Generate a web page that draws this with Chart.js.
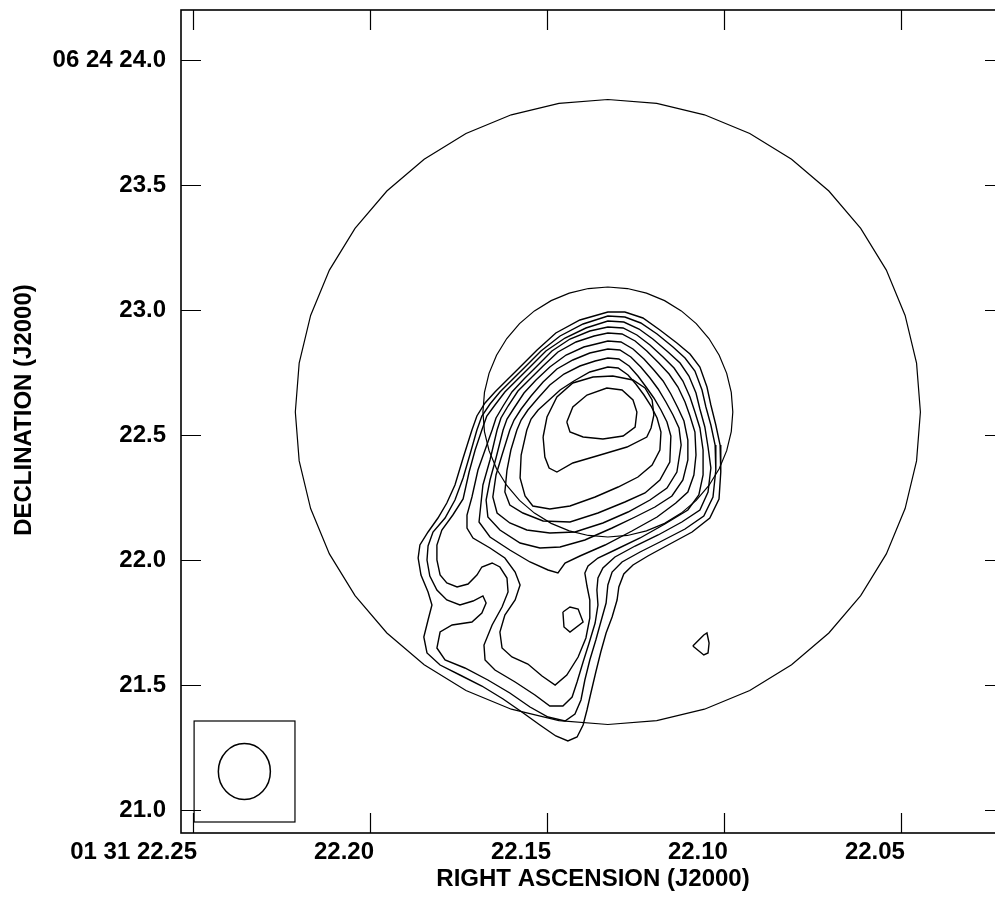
<!DOCTYPE html>
<html>
<head>
<meta charset="utf-8">
<script src="https://cdn.jsdelivr.net/npm/chart.js@4.4.1/dist/chart.umd.min.js"></script>
<style>
  html, body { margin: 0; padding: 0; background: #fff; overflow: hidden; }
  #wrap { width: 1010px; height: 898px; }
</style>
</head>
<body>
<div id="wrap"><canvas id="map" width="1010" height="898"></canvas></div>
<script>
// Axis ticks (RA in seconds of time, Dec in arcsec)
const raTicks = [22.25, 22.20, 22.15, 22.10, 22.05];
const raTickLabels = ['01 31 22.25', '22.20', '22.15', '22.10', '22.05'];
const decTicks = [21.0, 21.5, 22.0, 22.5, 23.0, 23.5, 24.0];
const decTickLabels = ['21.0', '21.5', '22.0', '22.5', '23.0', '23.5', '06 24 24.0'];

// Contour levels, lowest first: [RA s, Dec arcsec]
const contour1 = [[22.1712,22.520],[22.1698,22.576],[22.1675,22.628],[22.1647,22.672],[22.1613,22.720],[22.1576,22.772],[22.1528,22.840],[22.1475,22.908],[22.1407,22.960],[22.1328,22.992],[22.1280,22.992],[22.1229,22.968],[22.1181,22.920],[22.1133,22.868],[22.1096,22.824],[22.1068,22.772],[22.1048,22.692],[22.1037,22.620],[22.1023,22.540],[22.1011,22.460],[22.1009,22.352],[22.1014,22.244],[22.1040,22.168],[22.1090,22.112],[22.1158,22.060],[22.1215,22.016],[22.1257,21.980],[22.1283,21.944],[22.1297,21.892],[22.1302,21.840],[22.1316,21.772],[22.1333,21.708],[22.1348,21.632],[22.1362,21.552],[22.1376,21.468],[22.1387,21.400],[22.1398,21.340],[22.1415,21.292],[22.1441,21.276],[22.1475,21.296],[22.1520,21.340],[22.1571,21.392],[22.1624,21.444],[22.1684,21.496],[22.1746,21.540],[22.1802,21.580],[22.1839,21.628],[22.1848,21.692],[22.1836,21.760],[22.1825,21.820],[22.1836,21.872],[22.1856,21.940],[22.1864,22.008],[22.1859,22.060],[22.1836,22.112],[22.1808,22.168],[22.1783,22.228],[22.1760,22.300],[22.1737,22.408]];
const contour2 = [[22.1698,22.520],[22.1684,22.576],[22.1661,22.624],[22.1633,22.672],[22.1599,22.720],[22.1562,22.772],[22.1517,22.836],[22.1463,22.896],[22.1398,22.944],[22.1328,22.976],[22.1280,22.972],[22.1235,22.948],[22.1189,22.904],[22.1144,22.852],[22.1110,22.808],[22.1082,22.756],[22.1062,22.680],[22.1051,22.612],[22.1037,22.540],[22.1025,22.460],[22.1023,22.360],[22.1031,22.252],[22.1057,22.176],[22.1110,22.124],[22.1181,22.072],[22.1237,22.032],[22.1288,21.992],[22.1316,21.952],[22.1328,21.900],[22.1333,21.828],[22.1348,21.752],[22.1362,21.680],[22.1379,21.600],[22.1393,21.520],[22.1404,21.440],[22.1421,21.384],[22.1449,21.356],[22.1497,21.372],[22.1548,21.412],[22.1605,21.468],[22.1667,21.520],[22.1732,21.568],[22.1788,21.600],[22.1811,21.648],[22.1802,21.712],[22.1768,21.740],[22.1712,21.752],[22.1684,21.788],[22.1672,21.828],[22.1681,21.856],[22.1709,21.836],[22.1746,21.820],[22.1783,21.840],[22.1811,21.880],[22.1831,21.936],[22.1839,22.000],[22.1836,22.056],[22.1822,22.112],[22.1788,22.168],[22.1760,22.240],[22.1737,22.328],[22.1718,22.420]];
const contour3 = [[22.1684,22.520],[22.1670,22.576],[22.1647,22.620],[22.1619,22.672],[22.1585,22.720],[22.1548,22.772],[22.1503,22.836],[22.1449,22.888],[22.1390,22.928],[22.1328,22.956],[22.1283,22.952],[22.1240,22.924],[22.1201,22.884],[22.1158,22.832],[22.1124,22.788],[22.1099,22.736],[22.1079,22.668],[22.1068,22.604],[22.1054,22.532],[22.1045,22.452],[22.1037,22.368],[22.1045,22.272],[22.1068,22.200],[22.1119,22.152],[22.1186,22.100],[22.1251,22.056],[22.1308,22.012],[22.1342,21.968],[22.1356,21.928],[22.1359,21.880],[22.1356,21.820],[22.1364,21.748],[22.1381,21.668],[22.1398,21.592],[22.1415,21.512],[22.1429,21.452],[22.1455,21.416],[22.1492,21.416],[22.1534,21.460],[22.1590,21.512],[22.1647,21.560],[22.1675,21.600],[22.1678,21.660],[22.1655,21.740],[22.1627,21.812],[22.1610,21.872],[22.1613,21.928],[22.1633,21.972],[22.1655,21.988],[22.1684,21.972],[22.1698,21.940],[22.1723,21.904],[22.1754,21.892],[22.1783,21.908],[22.1802,21.940],[22.1811,22.000],[22.1811,22.060],[22.1797,22.120],[22.1766,22.180],[22.1737,22.244],[22.1720,22.352],[22.1703,22.440]];
const contour4 = [[22.1655,22.520],[22.1644,22.568],[22.1624,22.616],[22.1599,22.672],[22.1565,22.724],[22.1528,22.776],[22.1486,22.836],[22.1435,22.884],[22.1379,22.916],[22.1328,22.932],[22.1285,22.928],[22.1246,22.900],[22.1209,22.860],[22.1172,22.812],[22.1141,22.768],[22.1116,22.716],[22.1096,22.652],[22.1082,22.592],[22.1068,22.528],[22.1059,22.440],[22.1059,22.340],[22.1071,22.260],[22.1102,22.200],[22.1167,22.144],[22.1237,22.088],[22.1308,22.040],[22.1356,22.008],[22.1384,21.976],[22.1393,21.948],[22.1387,21.896],[22.1379,21.840],[22.1379,21.768],[22.1390,21.688],[22.1412,21.612],[22.1444,21.540],[22.1477,21.500],[22.1514,21.536],[22.1554,21.584],[22.1599,21.612],[22.1627,21.648],[22.1633,21.712],[22.1619,21.780],[22.1590,21.840],[22.1576,21.900],[22.1590,21.952],[22.1619,22.008],[22.1661,22.048],[22.1709,22.088],[22.1726,22.128],[22.1726,22.180],[22.1712,22.252],[22.1695,22.360],[22.1675,22.440]];
const contour5 = [[22.1641,22.520],[22.1630,22.568],[22.1610,22.616],[22.1582,22.676],[22.1548,22.724],[22.1511,22.776],[22.1469,22.832],[22.1418,22.872],[22.1367,22.896],[22.1328,22.908],[22.1288,22.904],[22.1251,22.876],[22.1218,22.836],[22.1184,22.788],[22.1155,22.744],[22.1130,22.692],[22.1110,22.632],[22.1096,22.576],[22.1082,22.512],[22.1079,22.420],[22.1085,22.340],[22.1102,22.272],[22.1136,22.228],[22.1189,22.172],[22.1260,22.116],[22.1336,22.060],[22.1407,22.016],[22.1449,21.988],[22.1469,21.948],[22.1497,21.960],[22.1548,21.992],[22.1605,22.040],[22.1661,22.092],[22.1692,22.152],[22.1687,22.220],[22.1681,22.300],[22.1661,22.400]];
const contour6 = [[22.1624,22.520],[22.1613,22.564],[22.1593,22.608],[22.1565,22.668],[22.1531,22.720],[22.1492,22.772],[22.1446,22.820],[22.1396,22.852],[22.1350,22.868],[22.1328,22.876],[22.1291,22.872],[22.1257,22.844],[22.1226,22.804],[22.1198,22.760],[22.1172,22.716],[22.1150,22.664],[22.1130,22.608],[22.1113,22.556],[22.1102,22.480],[22.1102,22.400],[22.1116,22.320],[22.1147,22.256],[22.1195,22.212],[22.1251,22.172],[22.1316,22.128],[22.1393,22.080],[22.1463,22.052],[22.1520,22.048],[22.1576,22.068],[22.1633,22.120],[22.1667,22.172],[22.1672,22.240],[22.1661,22.320],[22.1644,22.408]];
const contour7 = [[22.1605,22.520],[22.1593,22.560],[22.1573,22.604],[22.1545,22.656],[22.1511,22.712],[22.1472,22.764],[22.1427,22.800],[22.1379,22.828],[22.1328,22.844],[22.1294,22.840],[22.1263,22.812],[22.1235,22.772],[22.1209,22.728],[22.1186,22.684],[22.1164,22.632],[22.1144,22.580],[22.1127,22.528],[22.1121,22.460],[22.1133,22.352],[22.1161,22.288],[22.1209,22.240],[22.1271,22.192],[22.1342,22.148],[22.1421,22.112],[22.1492,22.108],[22.1557,22.120],[22.1605,22.148],[22.1641,22.188],[22.1653,22.252],[22.1644,22.340],[22.1627,22.420]];
const contour8 = [[22.1585,22.520],[22.1573,22.560],[22.1554,22.600],[22.1525,22.648],[22.1492,22.700],[22.1452,22.744],[22.1407,22.776],[22.1364,22.796],[22.1328,22.808],[22.1297,22.804],[22.1268,22.776],[22.1243,22.736],[22.1220,22.692],[22.1198,22.648],[22.1178,22.600],[22.1161,22.552],[22.1150,22.496],[22.1153,22.392],[22.1181,22.320],[22.1223,22.268],[22.1280,22.232],[22.1356,22.188],[22.1435,22.152],[22.1511,22.156],[22.1568,22.188],[22.1605,22.220],[22.1619,22.272],[22.1613,22.360],[22.1602,22.440]];
const contour9 = [[22.1557,22.520],[22.1545,22.564],[22.1525,22.600],[22.1497,22.636],[22.1463,22.680],[22.1424,22.716],[22.1379,22.752],[22.1328,22.772],[22.1299,22.768],[22.1271,22.740],[22.1249,22.704],[22.1226,22.660],[22.1206,22.616],[22.1189,22.568],[22.1178,22.512],[22.1181,22.440],[22.1203,22.380],[22.1243,22.332],[22.1299,22.292],[22.1364,22.252],[22.1435,22.216],[22.1492,22.204],[22.1540,22.216],[22.1562,22.256],[22.1576,22.328],[22.1573,22.420]];
const contour10 = [[22.1511,22.492],[22.1500,22.572],[22.1472,22.652],[22.1427,22.708],[22.1370,22.732],[22.1314,22.736],[22.1257,22.720],[22.1223,22.688],[22.1203,22.640],[22.1198,22.580],[22.1206,22.528],[22.1218,22.492],[22.1274,22.452],[22.1350,22.420],[22.1427,22.388],[22.1472,22.352],[22.1494,22.368],[22.1506,22.412]];
const contour11 = [[22.1444,22.552],[22.1427,22.612],[22.1387,22.660],[22.1331,22.688],[22.1288,22.680],[22.1257,22.640],[22.1246,22.592],[22.1251,22.532],[22.1285,22.496],[22.1342,22.484],[22.1398,22.492],[22.1435,22.512]];
// small closed islands
const lobePeak = [[22.1455,21.792],[22.1435,21.812],[22.1412,21.804],[22.1398,21.752],[22.1435,21.712],[22.1452,21.732]];
const eastKnot = [[22.1088,21.656],[22.1057,21.700],[22.1048,21.708],[22.1042,21.668],[22.1045,21.628],[22.1057,21.620]];

const contours = [contour1, contour2, contour3, contour4, contour5, contour6, contour7, contour8, contour9, contour10, contour11, lobePeak, eastKnot];

// Reference rings around the source
const ringCentre = [22.1328, 22.592];
const ringRadiiRa = [0.0353, 0.0883];
const ringRadiiDec = [0.50, 1.25];

// Restoring beam and its box
const beamBoxRa = [22.2497, 22.2212];
const beamBoxDec = [21.356, 20.952];
const beamCentre = [22.2355, 21.154];
const beamWidthRa = 0.0147;
const beamHeightDec = 0.224;

const FONT = '"Liberation Sans", Arial, Helvetica, sans-serif';
const black = '#000';

const datasets = contours.map(function (c) {
    return {
        data: c.concat([c[0]]).map(function (p) { return { x: p[0], y: p[1] }; }),
        showLine: true,
        borderColor: black,
        borderWidth: 1.4,
        pointRadius: 0,
        tension: 0,
        fill: false
    };
});

// Frame, inside ticks, rings, beam and axis titles
const mapFrame = {
    id: 'mapFrame',
    afterDraw(chart) {
        const ctx = chart.ctx, a = chart.chartArea;
        const xs = chart.scales.x, ys = chart.scales.y;
        ctx.save();
        ctx.strokeStyle = black;

        ctx.lineWidth = 1.2;
        ringRadiiDec.forEach(function (rd, i) {
            const rr = ringRadiiRa[i];
            ctx.beginPath();
            for (let k = 0; k <= 40; k++) {
                const t = k / 40 * 2 * Math.PI;
                const px = xs.getPixelForValue(ringCentre[0] + rr * Math.cos(t));
                const py = ys.getPixelForValue(ringCentre[1] + rd * Math.sin(t));
                if (k) ctx.lineTo(px, py); else ctx.moveTo(px, py);
            }
            ctx.stroke();
        });

        // beam
        const bx0 = xs.getPixelForValue(beamBoxRa[0]), bx1 = xs.getPixelForValue(beamBoxRa[1]);
        const by0 = ys.getPixelForValue(beamBoxDec[0]), by1 = ys.getPixelForValue(beamBoxDec[1]);
        ctx.lineWidth = 1.2;
        ctx.strokeRect(bx0, by0, bx1 - bx0, by1 - by0);
        const cx = xs.getPixelForValue(beamCentre[0]), cy = ys.getPixelForValue(beamCentre[1]);
        const rx = Math.abs(xs.getPixelForValue(beamCentre[0] + beamWidthRa / 2) - cx);
        const ry = Math.abs(ys.getPixelForValue(beamCentre[1] + beamHeightDec / 2) - cy);
        ctx.lineWidth = 1.5;
        ctx.beginPath();
        ctx.ellipse(cx, cy, rx, ry, 0, 0, 2 * Math.PI);
        ctx.stroke();

        // frame
        ctx.lineWidth = 1.6;
        ctx.strokeRect(a.left, a.top, a.right - a.left, a.bottom - a.top);

        // ticks drawn inside the frame
        ctx.lineWidth = 1.2;
        ctx.beginPath();
        raTicks.forEach(function (v) {
            const px = Math.round(xs.getPixelForValue(v)) + 0.5;
            ctx.moveTo(px, a.bottom); ctx.lineTo(px, a.bottom - 20);
            ctx.moveTo(px, a.top); ctx.lineTo(px, a.top + 20);
        });
        decTicks.forEach(function (v) {
            const py = Math.round(ys.getPixelForValue(v)) + 0.5;
            ctx.moveTo(a.left, py); ctx.lineTo(a.left + 20, py);
            ctx.moveTo(a.right, py); ctx.lineTo(a.right - 20, py);
        });
        ctx.stroke();

        // axis titles
        ctx.fillStyle = black;
        ctx.font = 'bold 24px ' + FONT;
        ctx.textAlign = 'center';
        ctx.textBaseline = 'alphabetic';
        ctx.fillText('RIGHT ASCENSION (J2000)', (a.left + a.right) / 2, a.bottom + 53);
        ctx.translate(31, a.top + 400);
        ctx.rotate(-Math.PI / 2);
        ctx.fillText('DECLINATION (J2000)', 0, 0);
        ctx.restore();
    }
};

new Chart(document.getElementById('map'), {
    type: 'scatter',
    data: { datasets: datasets },
    options: {
        responsive: false,
        animation: false,
        devicePixelRatio: 1,
        layout: { padding: { top: 10, right: 5, left: 0, bottom: 0 } },
        plugins: {
            legend: { display: false },
            tooltip: { enabled: false }
        },
        scales: {
            x: {
                type: 'linear',
                reverse: true,
                min: 22.0206,
                max: 22.2534,
                afterBuildTicks: function (scale) {
                    scale.ticks = raTicks.map(function (v) { return { value: v }; });
                },
                afterFit: function (scale) {
                    scale.height = 65;
                    scale.paddingLeft = 0;
                    scale.paddingRight = 0;
                },
                grid: { display: false, drawTicks: false },
                border: { display: false },
                ticks: {
                    autoSkip: false,
                    maxRotation: 0,
                    minRotation: 0,
                    align: 'end',
                    labelOffset: 4,
                    padding: 5,
                    color: black,
                    font: { family: FONT, size: 24, weight: 'bold' },
                    callback: function (value) { return raTickLabels[raTicks.indexOf(value)]; }
                }
            },
            y: {
                type: 'linear',
                min: 20.908,
                max: 24.2,
                afterBuildTicks: function (scale) {
                    scale.ticks = decTicks.map(function (v) { return { value: v }; });
                },
                afterFit: function (scale) {
                    scale.width = 181;
                    scale.paddingTop = 0;
                    scale.paddingBottom = 0;
                },
                grid: { display: false, drawTicks: false },
                border: { display: false },
                ticks: {
                    autoSkip: false,
                    padding: 15,
                    color: black,
                    font: { family: FONT, size: 24, weight: 'bold' },
                    callback: function (value) { return decTickLabels[decTicks.indexOf(value)]; }
                }
            }
        }
    },
    plugins: [mapFrame]
});
</script>
</body>
</html>
